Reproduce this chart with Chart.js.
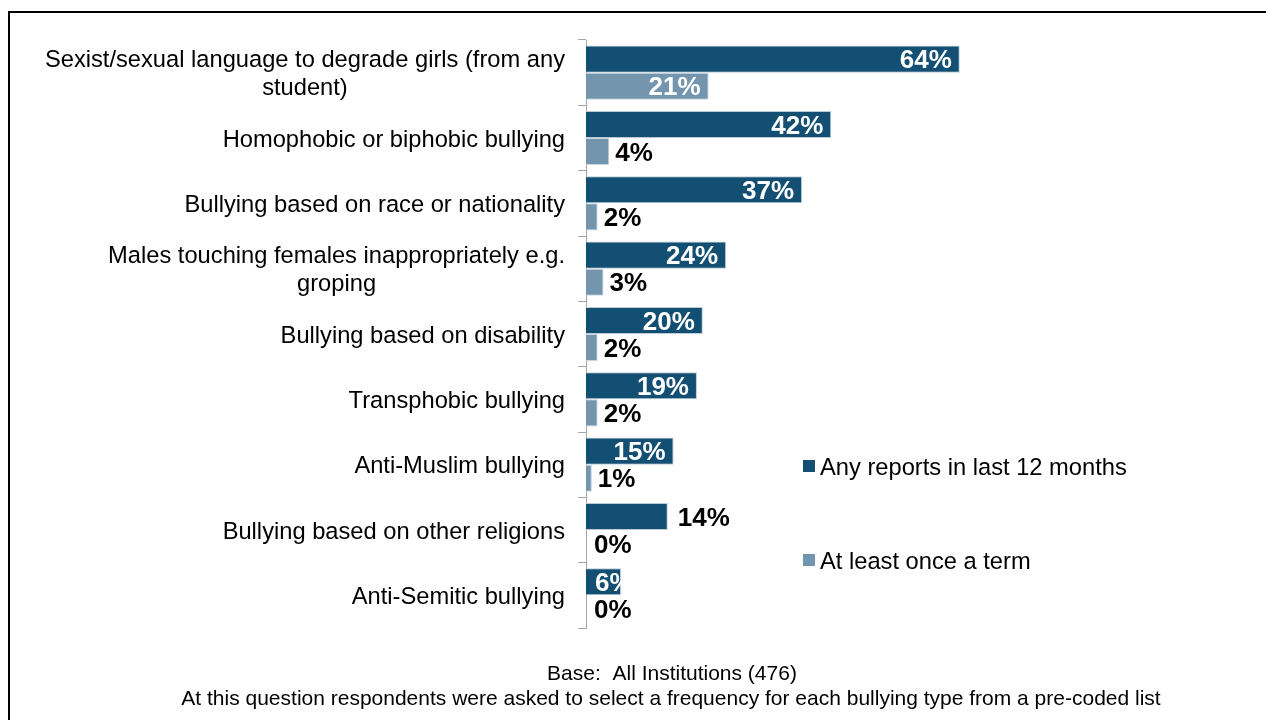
<!DOCTYPE html>
<html lang="en">
<head>
<meta charset="UTF-8">
<title>Bullying types reported</title>
<script src="https://cdn.jsdelivr.net/npm/chart.js"></script>
<style>
    body { margin: 0; background: #fff; }
    #wrap { width: 1266px; height: 720px; position: relative; }
</style>
</head>
<body>
<div id="wrap"><canvas id="bullyChart"></canvas></div>
<script>
const categories = [
    ['Sexist/sexual language to degrade girls (from any', 'student)'],
    ['Homophobic or biphobic bullying'],
    ['Bullying based on race or nationality'],
    ['Males touching females inappropriately e.g.', 'groping'],
    ['Bullying based on disability'],
    ['Transphobic bullying'],
    ['Anti-Muslim bullying'],
    ['Bullying based on other religions'],
    ['Anti-Semitic bullying']
];
const seriesNames = ['Any reports in last 12 months', 'At least once a term'];
const anyReports = [64, 42, 37, 24, 20, 19, 15, 14, 6];
const onceATerm = [21, 4, 2, 3, 2, 2, 1, 0, 0];
const footerLines = [
    'Base:  All Institutions (476)',
    'At this question respondents were asked to select a frequency for each bullying type from a pre-coded list'
];

const DARK = '#134f73';
const LIGHT = '#7395ae';
const FONT = '"Liberation Sans", Arial, sans-serif';

// bars whose label sits inside the bar end (white), per dataset
const insideLabel = [
    [true, true, true, true, true, true, true, false, true],
    [true, false, false, false, false, false, false, false, false]
];

const customDraw = {
    id: 'customDraw',
    afterDraw(chart) {
        const ctx = chart.ctx;
        ctx.save();

        // frame
        ctx.fillStyle = '#000';
        ctx.fillRect(8, 11, 1258, 2);
        ctx.fillRect(8, 11, 2, 709);

        // category labels: block right aligned, lines centred
        const yScale = chart.scales.y;
        ctx.font = '23.7px ' + FONT;
        ctx.fillStyle = '#000';
        ctx.textBaseline = 'middle';
        ctx.textAlign = 'center';
        const right = 565;
        categories.forEach((lines, i) => {
            const cy = yScale.getPixelForValue(i) + 2;
            const w = Math.max(...lines.map(l => ctx.measureText(l).width));
            const cx = right - w / 2;
            const lh = 28;
            const y0 = cy - (lines.length - 1) * lh / 2;
            lines.forEach((l, k) => ctx.fillText(l, cx, y0 + k * lh));
        });

        // value labels
        ctx.font = 'bold 26px ' + FONT;
        ctx.textAlign = 'left';
        chart.data.datasets.forEach((ds, di) => {
            const meta = chart.getDatasetMeta(di);
            meta.data.forEach((bar, i) => {
                const txt = ds.data[i] + '%';
                const tw = ctx.measureText(txt).width;
                const barW = bar.x - bar.base;
                if (insideLabel[di][i]) {
                    ctx.fillStyle = '#fff';
                    let x = bar.x - 8 - tw;
                    if (barW < tw + 16) x = bar.base + 9;
                    ctx.fillText(txt, x, bar.y + 2);
                } else {
                    ctx.fillStyle = '#000';
                    const gap = ds.data[i] === 0 ? 8 : (di === 0 ? 10 : 6);
                    ctx.fillText(txt, Math.max(bar.x, bar.base) + gap, bar.y + 2);
                }
            });
        });

        // legend
        const legendY = [466, 560];
        ctx.font = '23.7px ' + FONT;
        chart.data.datasets.forEach((ds, di) => {
            ctx.fillStyle = ds.backgroundColor;
            ctx.fillRect(803, legendY[di] - 6, 12, 12);
            ctx.fillStyle = '#000';
            ctx.fillText(ds.label, 820, legendY[di] + 2);
        });

        // footer
        ctx.font = '21px ' + FONT;
        ctx.textAlign = 'center';
        ctx.fillText(footerLines[0], 672, 674);
        ctx.fillText(footerLines[1], 671, 699);

        ctx.restore();
    }
};

new Chart(document.getElementById('bullyChart'), {
    type: 'bar',
    data: {
        labels: categories,
        datasets: [
            { label: seriesNames[0], data: anyReports, backgroundColor: DARK, borderColor: '#b9cbd8', borderWidth: 1 },
            { label: seriesNames[1], data: onceATerm, backgroundColor: LIGHT, borderColor: '#c9d7e2', borderWidth: 1 }
        ]
    },
    options: {
        indexAxis: 'y',
        responsive: true,
        maintainAspectRatio: false,
        animation: false,
        layout: { padding: { top: 40, bottom: 92, right: 96, left: 0 } },
        datasets: { bar: { categoryPercentage: 0.83, barPercentage: 1.0 } },
        plugins: { legend: { display: false }, tooltip: { enabled: false } },
        scales: {
            x: { display: false, min: 0, max: 100 },
            y: {
                grid: { offset: true, drawOnChartArea: false, tickLength: 8, color: '#a6a6a6' },
                border: { color: '#a6a6a6' },
                ticks: { color: 'transparent' },
                afterFit(scale) { scale.width = 586; }
            }
        }
    },
    plugins: [customDraw]
});
</script>
</body>
</html>
